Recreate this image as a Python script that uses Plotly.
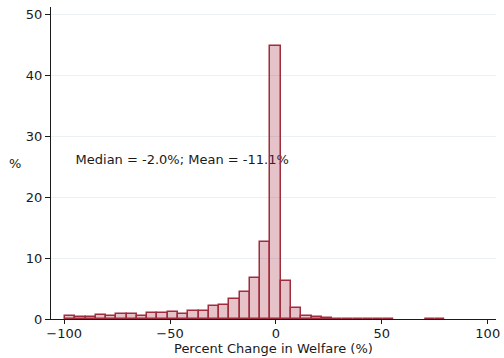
import plotly.graph_objects as go

# Histogram of the percent change in welfare (37 equal-width bins)
bin_start = -99.6
bin_width = 4.85
pct = [0.44, 0.40, 0.40, 0.70, 0.55, 0.85, 0.85, 0.55, 0.93, 0.93,
       1.10, 0.85, 1.30, 1.30, 2.08, 2.24, 3.29, 4.40, 6.75, 12.7,
       44.9, 6.30, 1.87, 0.55, 0.28, 0.14, 0.08, 0.06, 0.05, 0.06,
       0.08, 0.06, None, None, None, 0.08, 0.08]
x_ticks = [-100, -50, 0, 50, 100]
y_ticks = [0, 10, 20, 30, 40, 50]
stats_label = "Median = -2.0%; Mean = -11.1%"
x_title = "Percent Change in Welfare (%)"

centers = [bin_start + bin_width * (i + 0.5) for i in range(len(pct))]

FONT = "DejaVu Sans"
XR = [-106.2, 103.9]
YR = [0, 51.3]

fig = go.Figure()

# Summary text sits on the base axes, beneath the bars
fig.add_trace(go.Scatter(
    x=[-94.6], y=[26.1], mode="text", text=[stats_label],
    textposition="middle right",
    textfont=dict(family=FONT, size=13, color="#1a1a1a"),
    hoverinfo="skip", showlegend=False, xaxis="x", yaxis="y",
))

fig.add_trace(go.Bar(
    x=centers, y=pct, width=bin_width,
    marker=dict(color="rgba(160,40,60,0.28)",
                line=dict(color="rgb(160,45,62)", width=1.5)),
    showlegend=False, xaxis="x2", yaxis="y2",
))

fig.update_layout(
    width=504, height=358,
    margin=dict(l=51, r=4, t=7, b=39),
    plot_bgcolor="white", paper_bgcolor="white",
    font=dict(family=FONT, size=13, color="#1a1a1a"),
    bargap=0,
    xaxis=dict(
        range=XR, tickvals=x_ticks, ticks="outside", ticklen=4,
        ticklabelstandoff=-2,
        tickcolor="#1a1a1a", showline=True, linecolor="#1a1a1a", linewidth=1,
        showgrid=False, zeroline=False, ticklabeloverflow="allow",
        tickfont=dict(family=FONT, size=13),
    ),
    yaxis=dict(
        range=YR, tickvals=y_ticks, ticks="outside", ticklen=5,
        tickcolor="#1a1a1a", showline=True, linecolor="#1a1a1a", linewidth=1,
        showgrid=True, gridcolor="#eaf1f3", gridwidth=1, zeroline=False,
        tickfont=dict(family=FONT, size=13),
    ),
    xaxis2=dict(range=XR, overlaying="x", visible=False),
    yaxis2=dict(range=YR, overlaying="y", visible=False),
    annotations=[
        dict(text="%", x=-0.08, xref="paper", y=0.5, yref="paper",
             xanchor="center", yanchor="middle", showarrow=False,
             font=dict(family=FONT, size=13, color="#1a1a1a")),
        dict(text=x_title, x=0.5, xref="paper", y=-0.094, yref="paper",
             xanchor="center", yanchor="middle", showarrow=False,
             font=dict(family=FONT, size=13, color="#1a1a1a")),
    ],
)

fig.write_html("out.html")
